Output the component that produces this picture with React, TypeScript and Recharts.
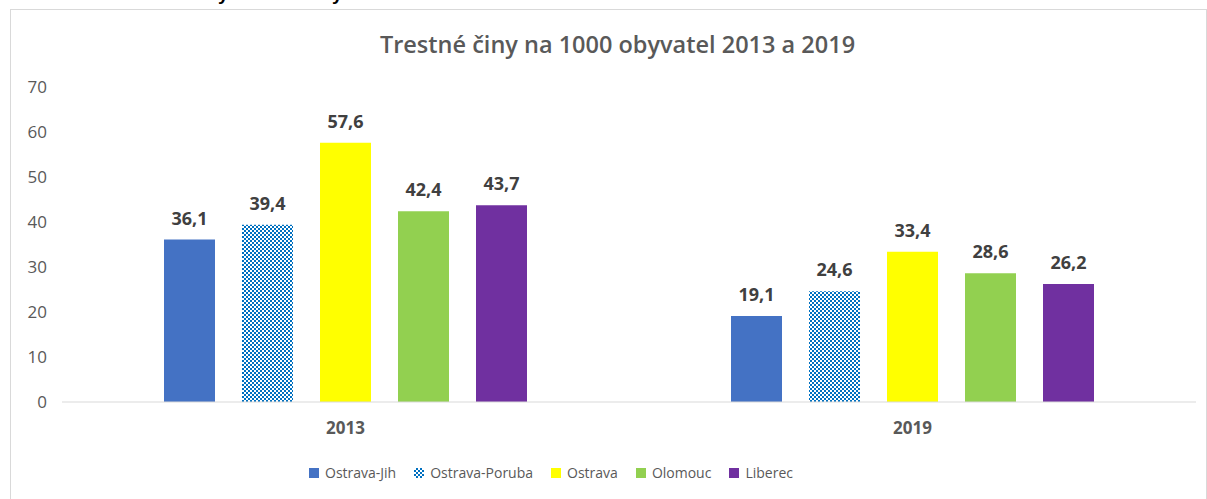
import { BarChart, Bar, XAxis, YAxis, LabelList } from 'recharts'

const years = ['2013', '2019']
const cities = ['Ostrava-Jih', 'Ostrava-Poruba', 'Ostrava', 'Olomouc', 'Liberec']
const ostravaJih = [36.1, 19.1]
const ostravaPoruba = [39.4, 24.6]
const ostrava = [57.6, 33.4]
const olomouc = [42.4, 28.6]
const liberec = [43.7, 26.2]
const yTicks = [0, 10, 20, 30, 40, 50, 60, 70]

const FILLS = ['#4472C4', 'url(#checker)', '#FFFF00', '#92D050', '#7030A0']
const series = [ostravaJih, ostravaPoruba, ostrava, olomouc, liberec]

const data = years.map((year, i) => {
  const row: Record<string, string | number> = { year }
  cities.forEach((c, j) => {
    row[c] = series[j][i]
  })
  return row
})

const FONT = '"Open Sans", sans-serif'

function Swatch({ i }: { i: number }) {
  if (i === 1) {
    return (
      <svg width={10} height={10} style={{ marginRight: 6 }}>
        <rect width={10} height={10} fill="url(#checkerLegend)" />
      </svg>
    )
  }
  return <span style={{ display: 'inline-block', width: 10, height: 10, background: FILLS[i], marginRight: 6 }} />
}

export default function App() {
  return (
    <div style={{ position: 'absolute', left: 0, top: 0, width: 1207, height: 499, overflow: 'hidden', background: '#fff' }}>
      <div style={{ position: 'absolute', left: 10, top: 0, height: 5, overflow: 'hidden', width: 1000 }}>
        <div style={{ marginTop: -17, fontFamily: '"Liberation Sans", Arial, sans-serif', fontWeight: 700, fontSize: 19, whiteSpace: 'pre', color: '#000' }}>
          {'Graf 6.6       Trestné činy na 1000 obyvatel 2013 a 2019'}
        </div>
      </div>
      <div style={{ position: 'absolute', left: 10, top: 9, width: 1195, height: 520, border: '1px solid #d9d9d9' }} />
      <div style={{ position: 'absolute', left: 0, top: 28, width: 1207, textAlign: 'center', fontFamily: FONT, fontSize: 23.5, fontWeight: 600, color: '#595959', paddingLeft: 14 }}>
        Trestné činy na 1000 obyvatel 2013 a 2019
      </div>
      <svg width={0} height={0} style={{ position: 'absolute' }}>
        <defs>
          <pattern id="checkerLegend" width={4} height={4} patternUnits="userSpaceOnUse">
            <rect width={4} height={4} fill="#0070C0" />
            <rect x={0} y={0} width={2} height={2} fill="#fff" />
            <rect x={2} y={2} width={2} height={2} fill="#fff" />
          </pattern>
        </defs>
      </svg>
      <div style={{ position: 'absolute', left: 0, top: 0 }}>
        <BarChart
          width={1207}
          height={499}
          data={data}
          margin={{ top: 87, right: 11, bottom: 67, left: 0 }}
          barCategoryGap="18%"
          barGap={27}
        >
          <defs>
            <pattern id="checker" width={4} height={4} patternUnits="userSpaceOnUse">
              <rect width={4} height={4} fill="#0070C0" />
              <rect x={0} y={0} width={2} height={2} fill="#fff" />
              <rect x={2} y={2} width={2} height={2} fill="#fff" />
            </pattern>
          </defs>
          <XAxis
            dataKey="year"
            height={30}
            tickLine={false}
            tickSize={0}
            tickMargin={20}
            axisLine={{ stroke: '#d9d9d9' }}
            tick={{ fill: '#595959', fontSize: 17, fontFamily: FONT, fontWeight: 700 }}
          />
          <YAxis
            width={62}
            domain={[0, 70]}
            ticks={yTicks}
            axisLine={false}
            tickLine={false}
            tickSize={0}
            tickMargin={15}
            tick={{ fill: '#595959', fontSize: 17, fontFamily: FONT }}
          />
          {cities.map((c, i) => (
            <Bar key={c} dataKey={c} fill={FILLS[i]} barSize={51} isAnimationActive={false}>
              <LabelList
                dataKey={c}
                position="top"
                offset={15}
                formatter={(v: unknown) => String(v).replace('.', ',')}
                style={{ fill: '#404040', fontSize: 18, fontWeight: 700, fontFamily: FONT }}
              />
            </Bar>
          ))}
        </BarChart>
      </div>
      <div
        style={{
          position: 'absolute',
          left: 309,
          top: 462,
          display: 'flex',
          gap: 18,
          fontFamily: FONT,
          fontSize: 14,
          color: '#595959',
          lineHeight: '22px',
          whiteSpace: 'nowrap',
        }}
      >
        {cities.map((c, i) => (
          <span key={c} style={{ display: 'inline-flex', alignItems: 'center' }}>
            <Swatch i={i} />
            {c}
          </span>
        ))}
      </div>
    </div>
  )
}
